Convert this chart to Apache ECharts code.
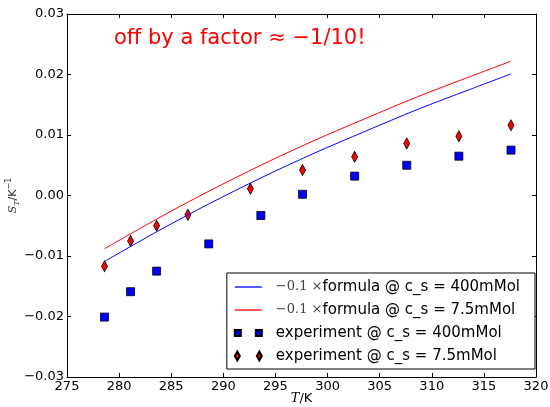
<!DOCTYPE html>
<html><head><meta charset="utf-8">
<script src="https://cdn.jsdelivr.net/npm/echarts@6/dist/echarts.min.js"></script>
<style>html,body{margin:0;padding:0;background:#fff}#c{width:550px;height:407px}</style>
</head><body><div id="c"></div>
<script>
const xTicks = [275, 280, 285, 290, 295, 300, 305, 310, 315, 320];
const yTicks = [-0.03, -0.02, -0.01, 0.00, 0.01, 0.02, 0.03];
const formulaT = [278.6, 283.6, 288.6, 293.6, 298.6, 303.6, 308.6, 313.6, 317.6];
const formula400 = [-0.0109, -0.0060, -0.0014, 0.0029, 0.0069, 0.0106, 0.0142, 0.0175, 0.0201];
const formula75 = [-0.0088, -0.0039, 0.0007, 0.0050, 0.0090, 0.0127, 0.0163, 0.0196, 0.0222];
const exp400T = [278.6, 281.1, 283.6, 288.6, 293.6, 297.6, 302.6, 307.6, 312.6, 317.6];
const exp400 = [-0.0201, -0.0159, -0.0125, -0.0080, -0.0033, 0.0002, 0.0032, 0.0050, 0.0065, 0.0075];
const exp75T = [278.6, 281.1, 283.6, 286.6, 292.6, 297.6, 302.6, 307.6, 312.6, 317.6];
const exp75 = [-0.0117, -0.0075, -0.0050, -0.0032, 0.0011, 0.0042, 0.0064, 0.0086, 0.0098, 0.0116];
const names = ['f400', 'f75', 'e400', 'e75'];

const zip = (a, b) => a.map((v, i) => [v, b[i]]);
const fmtY = v => { const s = Math.abs(v).toFixed(2); return (v < -1e-9 ? '\u2212' : '') + s; };
const chart = echarts.init(document.getElementById('c'));
const F = 'DejaVu Sans';
const axisLine = {show: true, onZero: false, lineStyle: {color: '#000', width: 1}};
const tick = {show: true, inside: true, length: 4, lineStyle: {color: '#000'}};
const legendText = {
  f400: '{m|\u22120.1 \u00d7}{t|formula @ c_s = 400mMol}',
  f75: '{m|\u22120.1 \u00d7}{t|formula @ c_s = 7.5mMol}',
  e400: '{t|experiment @ c_s = 400mMol}',
  e75: '{t|experiment @ c_s = 7.5mMol}'
};
const twoSq = 'path://M0,0L6,0L6,6L0,6Z M21,0L27,0L27,6L21,6Z';
const twoDia = 'path://M2.5,0L5,4.5L2.5,9L0,4.5Z M24.5,0L27,4.5L24.5,9L22,4.5Z';
const lineIcon = 'path://M0,0L25,0L25,1.2L0,1.2Z';
chart.setOption({
  animation: false,
  grid: {left: 67, right: 14, top: 14, bottom: 30, outerBoundsMode: 'none', containLabel: false},
  xAxis: [{
    type: 'value', min: xTicks[0], max: xTicks[xTicks.length - 1], interval: 5,
    axisLine, axisTick: tick, splitLine: {show: false},
    axisLabel: {color: '#000', fontFamily: F, fontSize: 13, margin: 3,
      formatter: v => xTicks.includes(v) ? String(v) : ''},
    name: '{i|T}{t|/K}', nameLocation: 'middle', nameGap: 15, nameMoveOverlap: false,
    nameTextStyle: {rich: {i: {fontFamily: 'DejaVu Serif', fontStyle: 'italic', fontSize: 13, color: '#000'},
      t: {fontFamily: F, fontSize: 13, color: '#000'}}}
  }, {
    type: 'value', position: 'top', min: 275, max: 320, interval: 5,
    axisLine, axisTick: tick, axisLabel: {show: false}, splitLine: {show: false}
  }],
  yAxis: [{
    type: 'value', min: -0.03, max: 0.03, interval: 0.01,
    axisLine, axisTick: tick, splitLine: {show: false},
    axisLabel: {color: '#000', fontFamily: F, fontSize: 13, margin: 3, formatter: fmtY},
    name: '{i|S}{s|T}{t|/K}{p|\u22121}', nameLocation: 'middle', nameGap: 46, nameRotate: 90, nameMoveOverlap: false,
    nameTextStyle: {rich: {
      i: {fontFamily: 'DejaVu Serif', fontStyle: 'italic', fontSize: 11, color: '#333'},
      s: {fontFamily: 'DejaVu Serif', fontStyle: 'italic', fontSize: 8, color: '#333', verticalAlign: 'bottom', lineHeight: 16},
      t: {fontFamily: F, fontSize: 11, color: '#333'},
      p: {fontFamily: F, fontSize: 8, color: '#333', verticalAlign: 'top', lineHeight: 16}}}
  }, {
    type: 'value', position: 'right', min: -0.03, max: 0.03, interval: 0.01,
    axisLine, axisTick: tick, axisLabel: {show: false}, splitLine: {show: false}
  }],
  legend: {
    orient: 'vertical', right: 15, top: 273,
    data: [
      {name: 'f400', icon: lineIcon},
      {name: 'f75', icon: lineIcon},
      {name: 'e400', icon: twoSq},
      {name: 'e75', icon: twoDia}
    ],
    itemWidth: 27, itemHeight: 10, itemGap: 7,
    padding: [6, 15, 5, 7],
    borderColor: '#000', borderWidth: 1, borderRadius: 0, backgroundColor: '#fff',
    formatter: n => legendText[n],
    textStyle: {lineHeight: 16, padding: [0, 0, 0, 9], rich: {
      m: {fontFamily: 'DejaVu Serif', fontSize: 13, color: '#444'},
      t: {fontFamily: F, fontSize: 15, color: '#000'}}}
  },
  graphic: [{
    type: 'text', left: 114, top: 28,
    style: {text: 'off by a factor \u2248 \u22121/10!', fill: '#ff0000', font: '21px "DejaVu Sans"'}
  }],
  series: [
    {name: names[0], type: 'line', data: zip(formulaT, formula400), showSymbol: false, smooth: 0.3,
      lineStyle: {color: '#0000ff', width: 1}, itemStyle: {color: '#0000ff'}},
    {name: names[1], type: 'line', data: zip(formulaT, formula75), showSymbol: false, smooth: 0.3,
      lineStyle: {color: '#ff0000', width: 1}, itemStyle: {color: '#ff0000'}},
    {name: names[2], type: 'scatter', data: zip(exp400T, exp400), symbol: 'rect', symbolSize: 8,
      itemStyle: {color: '#0000ff', borderColor: '#000', borderWidth: 0.8, opacity: 1}},
    {name: names[3], type: 'scatter', data: zip(exp75T, exp75), symbol: 'diamond', symbolSize: [6, 11],
      itemStyle: {color: '#ff0000', borderColor: '#000', borderWidth: 0.8, opacity: 1}}
  ]
});
</script></body></html>
